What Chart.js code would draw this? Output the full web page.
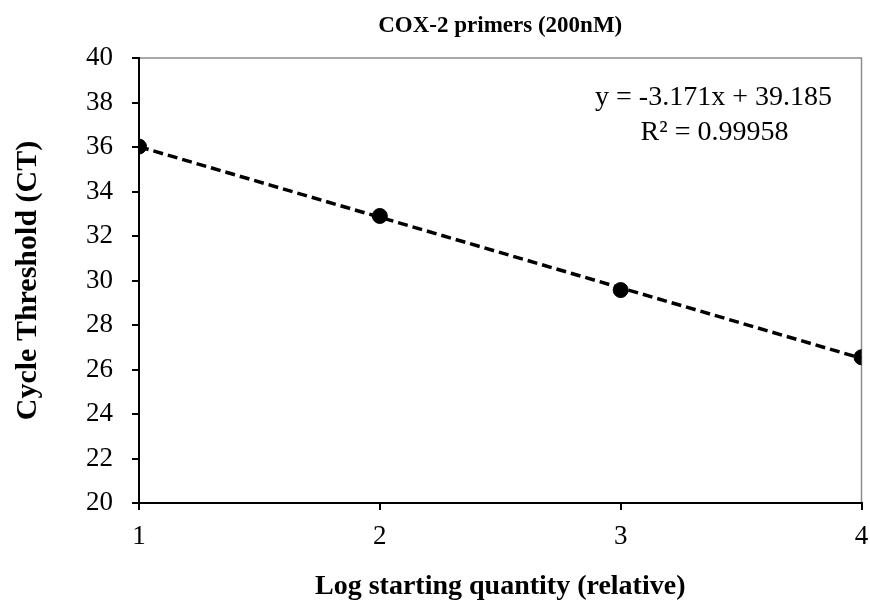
<!DOCTYPE html>
<html>
<head>
<meta charset="utf-8">
<script src="https://cdn.jsdelivr.net/npm/chart.js@4/dist/chart.umd.min.js"></script>
<style>
  html, body { margin: 0; padding: 0; background: #fff; }
  #wrap { width: 870px; height: 606px; }
</style>
</head>
<body>
<div id="wrap"><canvas id="c" width="870" height="606"></canvas></div>
<script>
// Standard curve: log starting quantity vs. cycle threshold
const logQuantity = [1, 2, 3, 4];
const cycleThreshold = [36.02, 32.90, 29.57, 26.55];

// Linear trendline reported on the chart
const slope = -3.171;
const intercept = 39.185;
const rSquared = '0.99958';

const xTicks = [1, 2, 3, 4];
const yTicks = [20, 22, 24, 26, 28, 30, 32, 34, 36, 38, 40];

const serif = '"Liberation Serif", "Times New Roman", Times, serif';

const points = logQuantity.map((x, i) => ({ x, y: cycleThreshold[i] }));
const xMin = xTicks[0], xMax = xTicks[xTicks.length - 1];
const trend = [
  { x: xMin, y: slope * xMin + intercept },
  { x: xMax, y: slope * xMax + intercept }
];

// Grey frame for the top and right of the plot area (left/bottom are the axes)
const frame = {
  id: 'frame',
  beforeDraw(chart) {
    const { ctx, chartArea: a } = chart;
    ctx.save();
    ctx.strokeStyle = '#8c8c8c';
    ctx.lineWidth = 1.5;
    ctx.strokeRect(a.left, a.top, a.right - a.left, a.bottom - a.top);
    ctx.restore();
  }
};

// Trendline equation and R² in the upper right of the plot
const equation = {
  id: 'equation',
  afterDraw(chart) {
    const { ctx, chartArea: a } = chart;
    const sign = intercept >= 0 ? '+' : '-';
    const line1 = 'y = ' + slope.toFixed(3) + 'x ' + sign + ' ' + Math.abs(intercept).toFixed(3);
    const line2 = 'R\u00B2 = ' + rSquared;
    const cx = a.right - 148;
    ctx.save();
    ctx.fillStyle = '#000';
    ctx.font = '28px ' + serif;
    ctx.textAlign = 'center';
    ctx.textBaseline = 'middle';
    ctx.fillText(line1, cx, a.top + 40);
    ctx.fillText(line2, cx + 1, a.top + 75);
    ctx.restore();
  }
};

new Chart(document.getElementById('c'), {
  type: 'scatter',
  data: {
    datasets: [
      {
        label: 'CT',
        data: points,
        backgroundColor: '#000',
        borderColor: '#000',
        pointRadius: 7.5,
        pointHoverRadius: 7.5,
        order: 1
      },
      {
        label: 'Linear fit',
        type: 'line',
        data: trend,
        borderColor: '#000',
        borderWidth: 3.5,
        borderDash: [10, 5],
        pointRadius: 0,
        fill: false,
        order: 2
      }
    ]
  },
  options: {
    responsive: false,
    animation: false,
    layout: { padding: { left: 0, right: 8, top: 0, bottom: 0 } },
    plugins: {
      legend: { display: false },
      tooltip: { enabled: false },
      title: {
        display: true,
        fullSize: false,
        text: 'COX-2 primers (200nM)',
        color: '#000',
        font: { family: serif, size: 23, weight: 'bold', lineHeight: 1.2 },
        padding: { top: 12, bottom: 18.4 }
      }
    },
    scales: {
      x: {
        type: 'linear',
        min: xMin,
        max: xMax,
        afterBuildTicks(scale) { scale.ticks = xTicks.map(v => ({ value: v })); },
        afterFit(scale) {
          scale.height = 103;
          scale.paddingLeft = 0;
          scale.paddingRight = 0;
        },
        ticks: {
          color: '#000',
          font: { family: serif, size: 27 },
          padding: 11,
          maxRotation: 0
        },
        grid: {
          drawOnChartArea: false,
          drawTicks: true,
          tickLength: 7,
          color: '#000',
          lineWidth: 2
        },
        border: { color: '#000', width: 2 },
        title: {
          display: true,
          text: 'Log starting quantity (relative)',
          color: '#000',
          font: { family: serif, size: 28, weight: 'bold', lineHeight: 1.2 },
          padding: { top: 0, bottom: 2 }
        }
      },
      y: {
        type: 'linear',
        min: yTicks[0],
        max: yTicks[yTicks.length - 1],
        afterBuildTicks(scale) { scale.ticks = yTicks.map(v => ({ value: v })); },
        afterFit(scale) { scale.width = 139; },
        ticks: {
          color: '#000',
          font: { family: serif, size: 27 },
          padding: 19
        },
        grid: {
          drawOnChartArea: false,
          drawTicks: true,
          tickLength: 7,
          color: '#000',
          lineWidth: 2
        },
        border: { color: '#000', width: 2 },
        title: {
          display: true,
          text: 'Cycle Threshold (CT)',
          color: '#000',
          font: { family: serif, size: 30, weight: 'bold', lineHeight: 1.2 },
          padding: { top: 10, bottom: 0 }
        }
      }
    }
  },
  plugins: [frame, equation]
});
</script>
</body>
</html>
